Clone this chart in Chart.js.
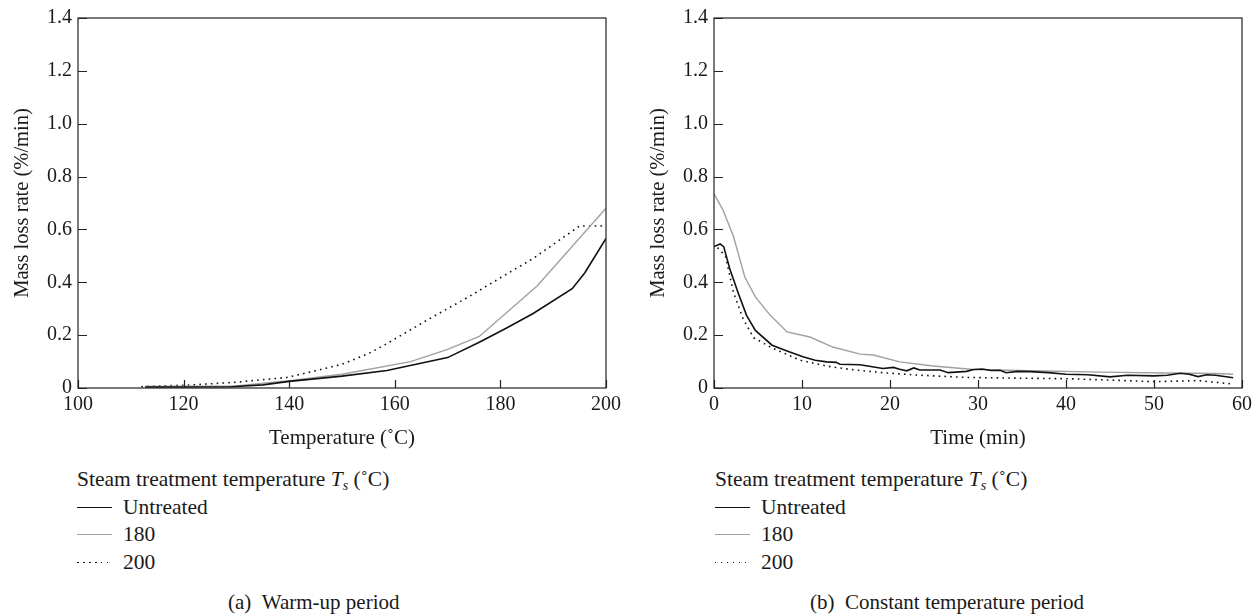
<!DOCTYPE html>
<html>
<head>
<meta charset="utf-8">
<script src="https://cdn.jsdelivr.net/npm/chart.js@4/dist/chart.umd.min.js"></script>
<style>
  body { margin: 0; background: #fff; }
  #page { position: relative; width: 1260px; height: 616px; font-family: 'Liberation Serif', 'DejaVu Serif', serif; color: #1a1a1a; }
  .box { position: absolute; top: 0; height: 460px; }
  .legend { position: absolute; top: 466px; font-size: 21.5px; }
  .legend > div { height: 27.5px; line-height: 27.5px; white-space: nowrap; }
  .legend .row { display: flex; align-items: center; }
  .legend .key { width: 35px; margin-right: 11px; }
  .solid { border-top: 1.6px solid #111; }
  .gray { border-top: 1.4px solid #a0a0a0; }
  .dots { height: 1.5px; background: repeating-linear-gradient(to right, #111 0 1.5px, transparent 1.5px 6px); }
  .caption { position: absolute; top: 589px; font-size: 21px; line-height: 26px; white-space: nowrap; }
  sub { font-size: 14px; line-height: 0; vertical-align: -4px; }
</style>
</head>
<body>
<div id="page">
  <div class="box" style="left:0;width:640px"><canvas id="warmChart"></canvas></div>
  <div class="box" style="left:640px;width:620px"><canvas id="constChart"></canvas></div>

  <div class="legend" style="left:77px">
    <div>Steam treatment temperature <i>T<sub>s</sub></i> (˚C)</div>
    <div class="row"><div class="key solid"></div>Untreated</div>
    <div class="row"><div class="key gray"></div>180</div>
    <div class="row"><div class="key dots"></div>200</div>
  </div>
  <div class="legend" style="left:715px">
    <div>Steam treatment temperature <i>T<sub>s</sub></i> (˚C)</div>
    <div class="row"><div class="key solid"></div>Untreated</div>
    <div class="row"><div class="key gray"></div>180</div>
    <div class="row"><div class="key dots"></div>200</div>
  </div>
  <div class="caption" style="left:228px">(a)&nbsp;&nbsp;Warm-up period</div>
  <div class="caption" style="left:810px">(b)&nbsp;&nbsp;Constant temperature period</div>
</div>

<script>
// (a) warm-up period: temperature (C) vs mass loss rate (%/min)
var warmUntreatedX = [112.7, 120, 129, 135, 140, 150, 158.5, 170, 176, 181, 186.2, 193.6, 196, 200];
var warmUntreatedY = [0.004, 0.004, 0.005, 0.012, 0.025, 0.045, 0.066, 0.115, 0.173, 0.225, 0.282, 0.376, 0.436, 0.566];
var warm180X = [112.7, 120, 130, 140, 150, 163, 170, 176, 187, 200];
var warm180Y = [0.006, 0.007, 0.008, 0.028, 0.052, 0.1, 0.146, 0.195, 0.387, 0.68];
var warm200X = [112, 122, 130, 139.5, 145, 150, 155, 158.5, 167, 174, 180, 186.2, 195, 200];
var warm200Y = [0.005, 0.012, 0.022, 0.04, 0.065, 0.09, 0.13, 0.168, 0.267, 0.345, 0.417, 0.49, 0.613, 0.613];

// (b) constant temperature period: time (min) vs mass loss rate (%/min)
var constUntreatedX = [0, 0.7, 1.1, 1.8, 2.8, 3.7, 4.7, 6.6, 8.3, 10.1, 11.5, 12.8, 13.9, 14.3, 16.6, 19.2, 20.4, 21.1, 21.9, 22.7,
  23.4, 24.9, 25.7, 26.6, 27.9, 28.7, 29.5, 30.5, 31.5, 32.5, 33.2, 34.5, 36, 38, 40, 42.5, 45, 47, 50, 51.5, 53, 54, 55, 56, 57, 59];
var constUntreatedY = [0.535, 0.545, 0.535, 0.45, 0.355, 0.275, 0.218, 0.162, 0.14, 0.118, 0.105, 0.099, 0.097, 0.09, 0.088, 0.074, 0.078, 0.071, 0.065, 0.076,
  0.068, 0.068, 0.068, 0.058, 0.061, 0.063, 0.07, 0.072, 0.066, 0.067, 0.058, 0.063, 0.062, 0.058, 0.052, 0.05, 0.042, 0.048, 0.046, 0.048, 0.056, 0.052, 0.043, 0.05, 0.048, 0.039];
var const180X = [0, 1, 2.2, 3.5, 4.7, 6.4, 8.3, 10.9, 13.5, 16.6, 18.1, 21.1, 24.9, 29.5, 36, 44, 51.5, 57, 59];
var const180Y = [0.735, 0.675, 0.575, 0.42, 0.345, 0.275, 0.212, 0.193, 0.155, 0.128, 0.125, 0.099, 0.083, 0.07, 0.065, 0.06, 0.057, 0.055, 0.052];
var const200X = [0.4, 1.3, 2.2, 3.3, 4.5, 6.7, 9.8, 12.8, 15.5, 19.2, 23, 28.7, 35, 40.5, 45, 50, 55, 57.5, 59];
var const200Y = [0.531, 0.5, 0.363, 0.262, 0.19, 0.15, 0.105, 0.083, 0.07, 0.058, 0.049, 0.04, 0.037, 0.035, 0.03, 0.024, 0.028, 0.02, 0.015];

var seriesLabels = ['Untreated', '180', '200'];
var yTicks = [0, 0.2, 0.4, 0.6, 0.8, 1.0, 1.2, 1.4];

Chart.defaults.font.family = "'Liberation Serif', 'DejaVu Serif', serif";
Chart.defaults.font.size = 20;
Chart.defaults.color = '#1a1a1a';

function pairs(xs, ys) {
  return xs.map(function (x, i) { return { x: x, y: ys[i] }; });
}

// frame around the plot plus short inward tick marks
var frameTicks = {
  id: 'frameTicks',
  afterDraw: function (chart) {
    var ctx = chart.ctx, a = chart.chartArea, x = chart.scales.x, y = chart.scales.y;
    ctx.save();
    ctx.strokeStyle = '#222';
    ctx.lineWidth = 1.2;
    ctx.strokeRect(a.left, a.top, a.right - a.left, a.bottom - a.top);
    ctx.beginPath();
    x.ticks.forEach(function (t) {
      var px = Math.round(x.getPixelForValue(t.value)) + 0.5;
      ctx.moveTo(px, a.bottom); ctx.lineTo(px, a.bottom - 8);
    });
    y.ticks.forEach(function (t) {
      var py = Math.round(y.getPixelForValue(t.value)) + 0.5;
      ctx.moveTo(a.left, py); ctx.lineTo(a.left + 9, py);
    });
    ctx.stroke();
    ctx.restore();
  }
};

function makeChart(id, sets, xOpts, yWidth, yTitlePad, padRight) {
  var styles = [
    { borderColor: '#111', borderWidth: 1.6, borderDash: [] },
    { borderColor: '#a0a0a0', borderWidth: 1.4, borderDash: [] },
    { borderColor: '#111', borderWidth: 1.6, borderDash: [1.6, 4.2] }
  ];
  return new Chart(document.getElementById(id), {
    type: 'line',
    data: {
      datasets: sets.map(function (d, i) {
        return {
          label: seriesLabels[i],
          data: d,
          borderColor: styles[i].borderColor,
          borderWidth: styles[i].borderWidth,
          borderDash: styles[i].borderDash,
          pointRadius: 0,
          tension: 0,
          fill: false
        };
      })
    },
    options: {
      responsive: true,
      maintainAspectRatio: false,
      animation: false,
      layout: { padding: { top: 15, right: padRight, left: 0, bottom: 0 } },
      plugins: { legend: { display: false }, tooltip: { enabled: false } },
      scales: {
        x: {
          type: 'linear',
          min: xOpts.min,
          max: xOpts.max,
          afterBuildTicks: function (s) { s.ticks = xOpts.ticks.map(function (v) { return { value: v }; }); },
          ticks: { padding: 5, maxRotation: 0, autoSkip: false },
          grid: { display: false, drawTicks: false },
          border: { display: false },
          title: { display: true, text: xOpts.title, padding: { top: 0, bottom: 9 }, font: { size: 21 } },
          afterFit: function (s) { s.height = 72; }
        },
        y: {
          min: 0,
          max: 1.4,
          afterBuildTicks: function (s) { s.ticks = yTicks.map(function (v) { return { value: v }; }); },
          ticks: {
            padding: 6,
            callback: function (v) { return v === 0 ? '0' : Number(v).toFixed(1); }
          },
          grid: { display: false, drawTicks: false },
          border: { display: false },
          title: { display: true, text: 'Mass loss rate (%/min)', padding: { top: yTitlePad, bottom: 0 }, font: { size: 20.5 } },
          afterFit: function (s) { s.width = yWidth; }
        }
      }
    },
    plugins: [frameTicks]
  });
}

makeChart('warmChart',
  [pairs(warmUntreatedX, warmUntreatedY), pairs(warm180X, warm180Y), pairs(warm200X, warm200Y)],
  { min: 100, max: 200, ticks: [100, 120, 140, 160, 180, 200], title: 'Temperature (˚C)' },
  78, 10, 34);

makeChart('constChart',
  [pairs(constUntreatedX, constUntreatedY), pairs(const180X, const180Y), pairs(const200X, const200Y)],
  { min: 0, max: 60, ticks: [0, 10, 20, 30, 40, 50, 60], title: 'Time (min)' },
  74, 6, 18);
</script>
</body>
</html>
